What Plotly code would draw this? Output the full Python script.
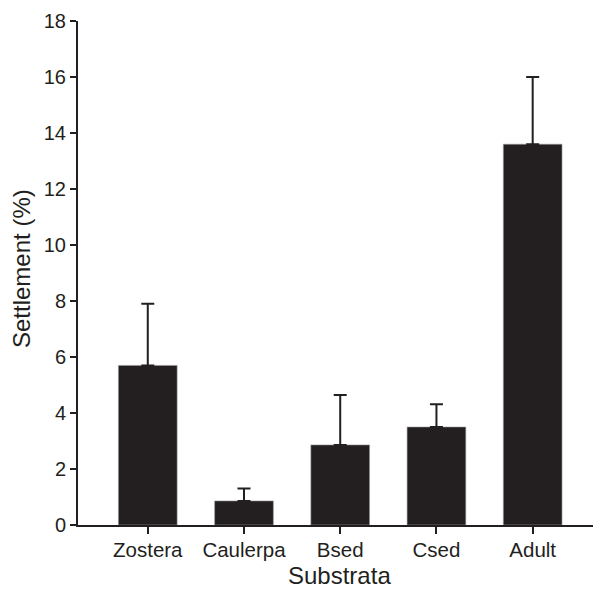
import plotly.graph_objects as go

categories = ["Zostera", "Caulerpa", "Bsed", "Csed", "Adult"]
means = [5.7, 0.86, 2.86, 3.5, 13.6]
upper = [7.9, 1.3, 4.64, 4.31, 16.0]

x_title = "Substrata"
y_title = "Settlement (%)"

err_plus = [u - m for u, m in zip(upper, means)]
err_minus = [0 for _ in means]

ink = "#231f20"
font_family = "Liberation Sans, Arial, Helvetica, sans-serif"

# the page body has an 8px default margin, so the figure is sized to compensate
fig = go.Figure(
    go.Bar(
        x=categories,
        y=means,
        marker=dict(color=ink, line=dict(color="#9a9a9a", width=0.6)),
        error_y=dict(
            type="data",
            symmetric=False,
            array=err_plus,
            arrayminus=err_minus,
            color=ink,
            thickness=2,
            width=6.5,
        ),
    )
)

fig.update_layout(
    width=593,
    height=581,
    margin=dict(l=70, r=0, t=13, b=64, autoexpand=False),
    plot_bgcolor="white",
    paper_bgcolor="white",
    bargap=0.39,
    showlegend=False,
    font=dict(family=font_family, color=ink, size=20),
    annotations=[
        dict(
            text=x_title, xref="paper", yref="paper", x=0.5, y=-0.1,
            xanchor="center", yanchor="middle", showarrow=False, borderpad=0,
            font=dict(size=24, color=ink),
        ),
        dict(
            text=y_title, xref="paper", yref="paper", x=-0.107, y=0.508,
            xanchor="center", yanchor="middle", showarrow=False, textangle=-90,
            font=dict(size=24, color=ink),
        ),
    ],
)

fig.update_xaxes(
    type="category",
    range=[-0.725, 4.71],
    automargin=False,
    showline=True,
    linecolor=ink,
    linewidth=2,
    ticks="outside",
    ticklen=7,
    tickwidth=2,
    tickcolor=ink,
    ticklabelstandoff=-2,
    showgrid=False,
    zeroline=False,
    tickfont=dict(size=20.5, color=ink),
)

fig.update_yaxes(
    range=[0, 18],
    dtick=2,
    automargin=False,
    showline=True,
    linecolor=ink,
    linewidth=2,
    ticks="outside",
    ticklen=6,
    tickwidth=2,
    tickcolor=ink,
    showgrid=False,
    zeroline=False,
    tickfont=dict(size=20, color=ink),
)

fig.write_html("out.html")
